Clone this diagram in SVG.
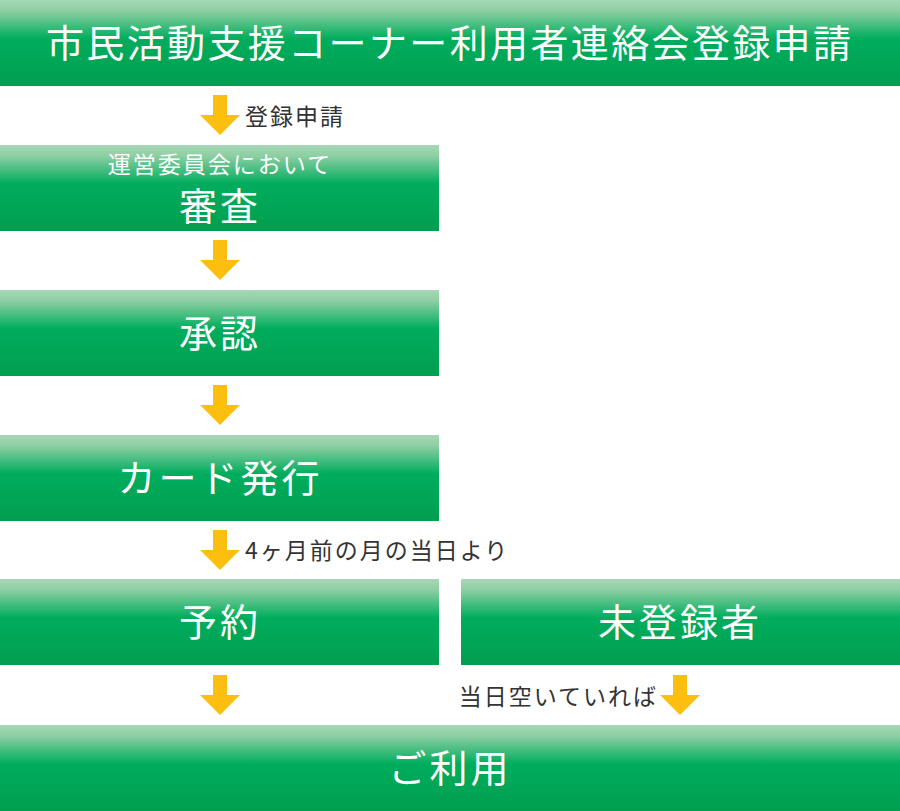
<svg xmlns="http://www.w3.org/2000/svg" width="900" height="811" viewBox="0 0 900 811">
<defs>
<linearGradient id="g" x1="0" y1="0" x2="0" y2="1">
<stop offset="0" stop-color="#a6d8b5"/>
<stop offset="0.12" stop-color="#8fcfa4"/>
<stop offset="0.45" stop-color="#00ad5d"/>
<stop offset="1" stop-color="#009f4f"/>
</linearGradient>
<symbol id="arr" viewBox="-20 0 40 40" overflow="visible">
<path d="M-7,0 H7 V20 H20 L0,40 L-20,20 H-7 Z" fill="#fcbf10"/>
</symbol>
</defs>
<style>
.box{fill:url(#g)}
.big{font-family:"Noto Sans CJK JP","Noto Sans",sans-serif;font-size:38px;fill:#fff;text-anchor:middle;letter-spacing:3px}
.sub{font-family:"Noto Sans CJK JP","Noto Sans",sans-serif;font-size:23px;fill:#fff;text-anchor:middle;letter-spacing:2px}
.lbl{font-family:"Noto Sans CJK JP","Noto Sans",sans-serif;font-size:23px;fill:#333;letter-spacing:2px}
</style>
<rect width="900" height="811" fill="#fff"/>
<g id="n1"><rect class="box" x="0" y="0" width="900" height="86"/><text class="big" x="450" y="57" textLength="808">市民活動支援コーナー利用者連絡会登録申請</text></g>
<g id="n2"><rect class="box" x="0" y="145" width="439" height="86"/><text class="sub" x="220" y="173">運営委員会において</text><text class="big" x="220" y="220">審査</text></g>
<g id="n3"><rect class="box" x="0" y="290" width="439" height="86"/><text class="big" x="220" y="347">承認</text></g>
<g id="n4"><rect class="box" x="0" y="435" width="439" height="86"/><text class="big" x="220" y="492">カード発行</text></g>
<g id="n5"><rect class="box" x="0" y="579" width="439" height="86"/><text class="big" x="220" y="636">予約</text></g>
<g id="n6"><rect class="box" x="461" y="579" width="439" height="86"/><text class="big" x="680" y="636">未登録者</text></g>
<g id="n7"><rect class="box" x="0" y="725" width="900" height="86"/><text class="big" x="450" y="782">ご利用</text></g>
<g id="connectors">
<use href="#arr" x="200" y="95" width="40" height="40"/>
<use href="#arr" x="200" y="240" width="40" height="40"/>
<use href="#arr" x="200" y="385" width="40" height="40"/>
<use href="#arr" x="200" y="530" width="40" height="40"/>
<use href="#arr" x="200" y="675" width="40" height="40"/>
<use href="#arr" x="660" y="675" width="40" height="40"/>
<text class="lbl" x="245" y="125">登録申請</text>
<text class="lbl" x="245" y="559">4ヶ月前の月の当日より</text>
<text class="lbl" x="658" y="705" text-anchor="end">当日空いていれば</text>
</g>
</svg>
